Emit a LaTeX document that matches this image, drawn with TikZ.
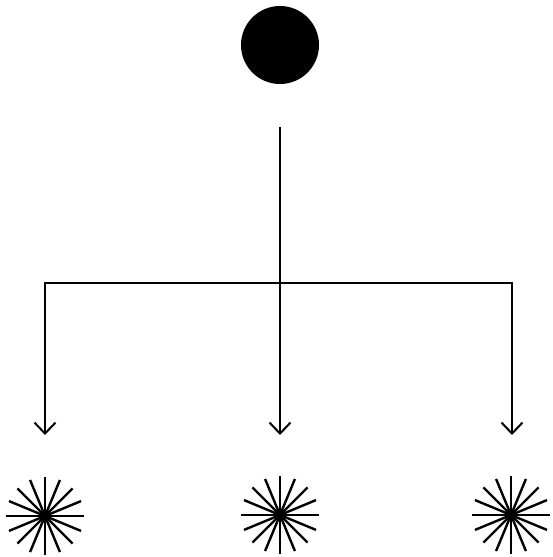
\documentclass[tikz,border=0pt]{standalone}
\usetikzlibrary{arrows.meta,calc}
\tikzset{
  conn/.style={line width=2pt, line join=miter},
  tip/.style={-{Straight Barb[length=11pt,width=21pt,line width=2pt]}},
  tips/.style={{Straight Barb[length=11pt,width=21pt,line width=2pt]}-{Straight Barb[length=11pt,width=21pt,line width=2pt]}},
  ray/.style={line width=2.4pt},
}
\begin{document}
\begin{tikzpicture}[x=1pt,y=-1pt]
\useasboundingbox (0,0) rectangle (552,557);
\fill (280,45) circle (39);
\node[circle, minimum size=78pt, inner sep=0pt] (src) at (280,45) {};
\coordinate (top) at (280,127);
\coordinate (a2) at (280,435);
\coordinate (cl) at (45,283);
\coordinate (cr) at (512,283);
\coordinate (a1) at (45,435);
\coordinate (a3) at (512,435);
\coordinate (s1) at (45,516);
\coordinate (s2) at (280,515);
\coordinate (s3) at (511,515);
\draw[conn,tip] (top) -- (a2);
\draw[conn,tips] (a1) -- (cl) -- (cr) -- (a3);
\foreach \s in {s1,s2,s3}{
  \foreach \a in {0,22.5,...,157.5}{
    \draw[ray] ($(\s)+(\a:39)$) -- ($(\s)+(\a+180:39)$);
  }
}
\end{tikzpicture}
\end{document}
